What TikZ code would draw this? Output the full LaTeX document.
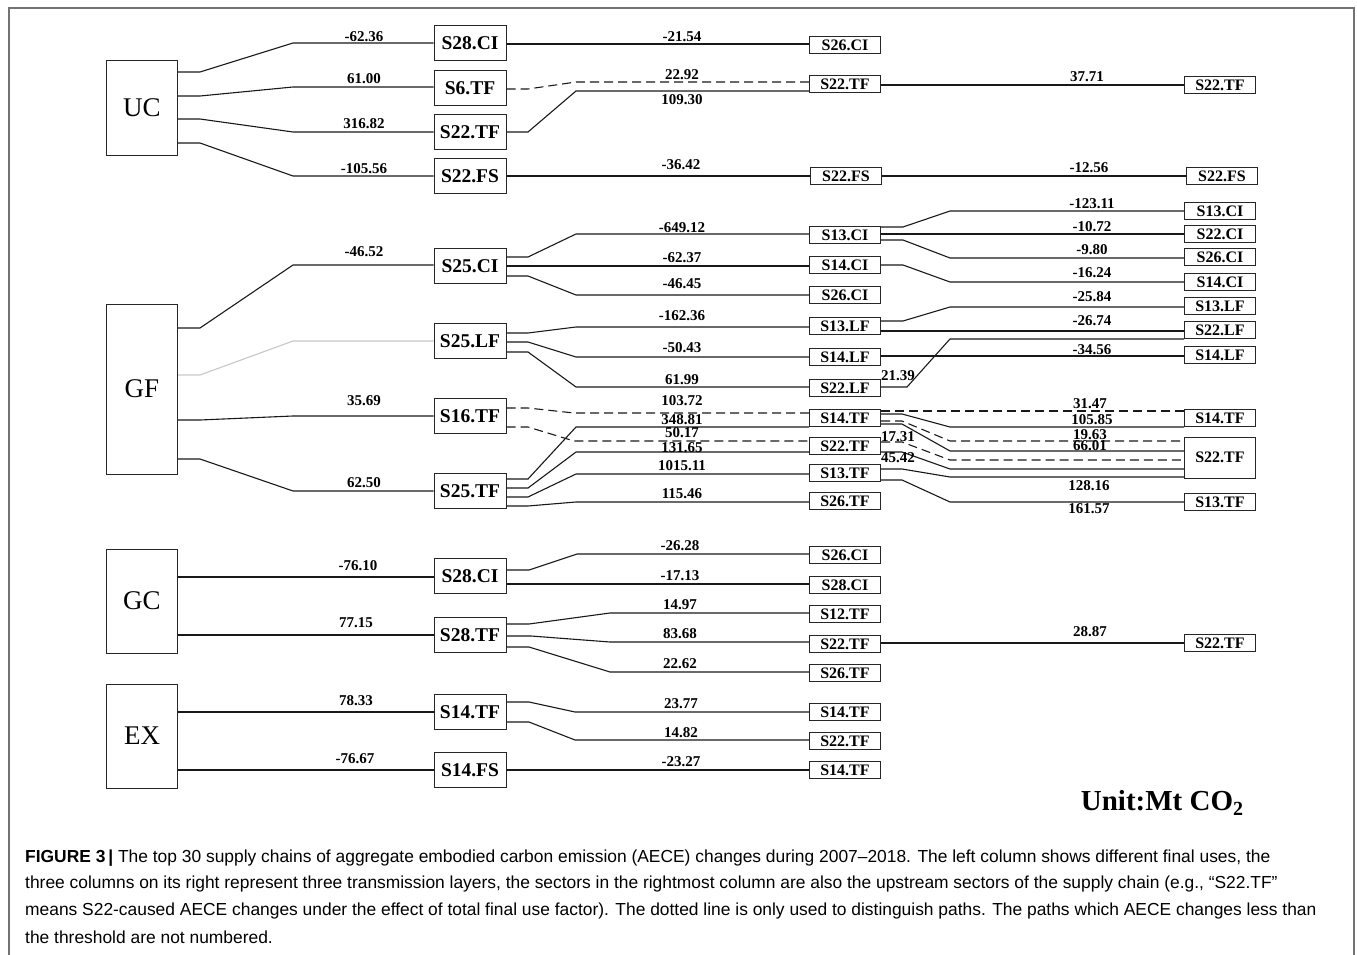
\documentclass[tikz,border=0pt]{standalone}
\usepackage{fontspec}
\setmainfont{Liberation Serif}
\newfontfamily\capfont{Liberation Sans}
\tikzset{
  fu/.style={draw=black!85, line width=1pt, minimum width=71pt, inner sep=0pt, font=\fontsize{27}{27}\selectfont},
  la/.style={draw=black!85, line width=1pt, minimum width=72pt, minimum height=35pt, inner sep=0pt, font=\fontsize{19.5}{19.5}\selectfont\bfseries},
  lb/.style={draw=black!85, line width=1pt, minimum width=71pt, minimum height=17pt, inner sep=0pt, font=\fontsize{16}{16}\selectfont\bfseries},
  num/.style={inner sep=0pt, font=\fontsize{15}{15}\selectfont\bfseries},
  ln/.style={line width=1.1pt, black!90},
  dsh/.style={ln, dash pattern=on 9pt off 5pt},
  pale/.style={line width=1.1pt, black!22},
  captxt/.style={anchor=west, inner sep=0pt, font=\capfont\fontsize{17.4}{18}\selectfont}
}
\newcommand{\cn}[7][ln]{\draw[#1] (#2.east |- 0,#3) -- (#4,#3) -- (#5,#7) -- (#6.west |- 0,#7);}
\newcommand{\st}[4][ln]{\draw[#1] (#2.east |- 0,#3) -- (#4.west |- 0,#3);}
\begin{document}
\begin{tikzpicture}[x=1pt,y=-1pt]
\useasboundingbox (0,0) rectangle (1357,955);
% frame
\draw[black!55, line width=1.5pt] (9,955) -- (9,8) -- (1354,8) -- (1354,955);

% column 0
\node[fu, minimum height=94pt] (uc) at (142,108) {UC};
\node[fu, minimum height=170pt] (gf) at (142,389) {GF};
\node[fu, minimum height=104pt] (gc) at (142,601) {GC};
\node[fu, minimum height=104pt] (ex) at (142,736) {EX};

% column 1
\node[la] (a1) at (470,43) {S28.CI};
\node[la] (a2) at (470,88) {S6.TF};
\node[la] (a3) at (470,132) {S22.TF};
\node[la] (a4) at (470,176) {S22.FS};
\node[la] (b1) at (470,266) {S25.CI};
\node[la] (b2) at (470,341) {S25.LF};
\node[la] (b3) at (470,416) {S16.TF};
\node[la] (b4) at (470,491) {S25.TF};
\node[la] (c1) at (470,576) {S28.CI};
\node[la] (c2) at (470,635) {S28.TF};
\node[la] (d1) at (470,712) {S14.TF};
\node[la] (d2) at (470,770) {S14.FS};

% column 2
\node[lb] (p1) at (845,45) {S26.CI};
\node[lb] (p2) at (845,84) {S22.TF};
\node[lb] (p3) at (846,176) {S22.FS};
\node[lb] (q1) at (845,235) {S13.CI};
\node[lb] (q2) at (845,265) {S14.CI};
\node[lb] (q3) at (845,295) {S26.CI};
\node[lb] (q4) at (845,326) {S13.LF};
\node[lb] (q5) at (845,357) {S14.LF};
\node[lb] (q6) at (845,388) {S22.LF};
\node[lb] (q7) at (845,418) {S14.TF};
\node[lb] (q8) at (845,446) {S22.TF};
\node[lb] (q9) at (845,473) {S13.TF};
\node[lb] (q10) at (845,501) {S26.TF};
\node[lb] (r1) at (845,555) {S26.CI};
\node[lb] (r2) at (845,585) {S28.CI};
\node[lb] (r3) at (845,614) {S12.TF};
\node[lb] (r4) at (845,644) {S22.TF};
\node[lb] (r5) at (845,673) {S26.TF};
\node[lb] (s1) at (845,712) {S14.TF};
\node[lb] (s2) at (845,741) {S22.TF};
\node[lb] (s3) at (845,770) {S14.TF};

% column 3
\node[lb] (t1) at (1220,85) {S22.TF};
\node[lb] (t2) at (1222,176) {S22.FS};
\node[lb] (u1) at (1220,211) {S13.CI};
\node[lb] (u2) at (1220,234) {S22.CI};
\node[lb] (u3) at (1220,257) {S26.CI};
\node[lb] (u4) at (1220,282) {S14.CI};
\node[lb] (u5) at (1220,306) {S13.LF};
\node[lb] (u6) at (1220,330) {S22.LF};
\node[lb] (u7) at (1220,355) {S14.LF};
\node[lb] (u8) at (1220,418) {S14.TF};
\node[lb, minimum height=41pt] (u9) at (1220,457.5) {S22.TF};
\node[lb] (u10) at (1220,502) {S13.TF};
\node[lb] (v1) at (1220,643) {S22.TF};

% column 0 -> 1
\cn{uc}{72}{200}{293}{a1}{43}
\cn{uc}{96}{200}{293}{a2}{87}
\cn{uc}{119}{200}{293}{a3}{132}
\cn{uc}{143}{200}{293}{a4}{176}
\cn{gf}{328}{200}{293}{b1}{265}
\cn[pale]{gf}{375}{200}{293}{b2}{341}
\cn{gf}{420}{200}{293}{b3}{416}
\cn{gf}{459}{200}{293}{b4}{491}
\st{gc}{577}{c1}
\st{gc}{635}{c2}
\st{ex}{712}{d1}
\st{ex}{770}{d2}

% column 1 -> 2
\st{a1}{44}{p1}
\cn[dsh]{a2}{89}{528}{576}{p2}{82}
\cn{a3}{132}{528}{576}{p2}{91}
\st{a4}{176}{p3}
\cn{b1}{257}{528}{576}{q1}{234}
\st{b1}{266}{q2}
\cn{b1}{276}{528}{576}{q3}{295}
\cn{b2}{333}{528}{576}{q4}{327}
\cn{b2}{342}{528}{576}{q5}{357}
\cn{b2}{352}{528}{576}{q6}{387}
\cn[dsh]{b3}{408}{528}{574}{q7}{413}
\cn[dsh]{b3}{427}{528}{574}{q8}{441}
\cn{b4}{479}{528}{576}{q7}{427}
\cn{b4}{488}{528}{576}{q8}{452}
\cn{b4}{497}{528}{576}{q9}{474}
\cn{b4}{506}{528}{576}{q10}{502}
\cn{c1}{570}{529}{577}{r1}{554}
\st{c1}{584}{r2}
\cn{c2}{624}{529}{610}{r3}{613}
\cn{c2}{636}{531}{610}{r4}{642}
\cn{c2}{647}{529}{610}{r5}{672}
\cn{d1}{702}{529}{575}{s1}{712}
\cn{d1}{722}{529}{575}{s2}{740}
\st{d2}{770}{s3}

% column 2 -> 3
\st{p2}{85}{t1}
\st{p3}{176}{t2}
\cn{q1}{227}{903}{950}{u1}{211}
\st{q1}{234}{u2}
\cn{q1}{240}{903}{950}{u3}{258}
\cn{q2}{265}{903}{950}{u4}{282}
\cn{q4}{321}{903}{950}{u5}{307}
\st{q4}{331}{u6}
\st{q5}{356}{u7}
\cn{q6}{387}{907}{950}{u6}{339}
\st[dsh]{q7}{411}{u8}
\cn{q7}{414}{902}{950}{u8}{427}
\cn[dsh]{q7}{421}{902}{950}{u9}{441}
\cn{q7}{424}{902}{950}{u9}{451}
\cn[dsh]{q8}{442}{902}{950}{u9}{460}
\cn{q8}{452}{902}{950}{u9}{469}
\cn{q9}{469}{902}{950}{u9}{477}
\cn{q9}{480}{902}{950}{u10}{502}
\st{r4}{643}{v1}

% labels column 0 -> 1
\node[num] (l1) at (364,37) {-62.36};
\node[num] (l2) at (364,79) {61.00};
\node[num] (l3) at (364,124) {316.82};
\node[num] (l4) at (364,169) {-105.56};
\node[num] (l5) at (364,252) {-46.52};
\node[num] (l6) at (364,401) {35.69};
\node[num] (l7) at (364,483) {62.50};
\node[num] (l8) at (358,566) {-76.10};
\node[num] (l9) at (356,623) {77.15};
\node[num] (l10) at (356,701) {78.33};
\node[num] (l11) at (355,759) {-76.67};

% labels column 1 -> 2
\node[num] (m1) at (682,37) {-21.54};
\node[num] (m2) at (682,75) {22.92};
\node[num] (m3) at (682,100) {109.30};
\node[num] (m4) at (681,165) {-36.42};
\node[num] (m5) at (682,228) {-649.12};
\node[num] (m6) at (682,258) {-62.37};
\node[num] (m7) at (682,284) {-46.45};
\node[num] (m8) at (682,316) {-162.36};
\node[num] (m9) at (682,348) {-50.43};
\node[num] (m10) at (682,380) {61.99};
\node[num] (m11) at (682,401) {103.72};
\node[num] (m12) at (682,420) {348.81};
\node[num] (m13) at (682,433) {50.17};
\node[num] (m14) at (682,448) {131.65};
\node[num] (m15) at (682,466) {1015.11};
\node[num] (m16) at (682,494) {115.46};
\node[num] (m17) at (680,546) {-26.28};
\node[num] (m18) at (680,576) {-17.13};
\node[num] (m19) at (680,605) {14.97};
\node[num] (m20) at (680,634) {83.68};
\node[num] (m21) at (680,664) {22.62};
\node[num] (m22) at (681,704) {23.77};
\node[num] (m23) at (681,733) {14.82};
\node[num] (m24) at (681,762) {-23.27};

% labels column 2 -> 3
\node[num] (n1) at (1087,77) {37.71};
\node[num] (n2) at (1089,168) {-12.56};
\node[num] (n3) at (1092,204) {-123.11};
\node[num] (n4) at (1092,227) {-10.72};
\node[num] (n5) at (1092,250) {-9.80};
\node[num] (n6) at (1092,273) {-16.24};
\node[num] (n7) at (1092,297) {-25.84};
\node[num] (n8) at (1092,321) {-26.74};
\node[num] (n9) at (1092,350) {-34.56};
\node[num] (n10) at (898,376) {21.39};
\node[num] (n11) at (1090,404) {31.47};
\node[num] (n12) at (1092,420) {105.85};
\node[num] (n13) at (1090,435) {19.63};
\node[num] (n14) at (1090,446) {66.01};
\node[num] (n15) at (898,437) {17.31};
\node[num] (n16) at (898,458) {45.42};
\node[num] (n17) at (1089,486) {128.16};
\node[num] (n18) at (1089,509) {161.57};
\node[num] (n19) at (1090,632) {28.87};

% unit
\node[inner sep=0pt, font=\fontsize{29}{29}\selectfont\bfseries] (unit) at (1162,803) {Unit:Mt CO\raisebox{-0.35ex}{\fontsize{20}{20}\selectfont 2}};

% caption
\node[captxt] (cl1) at (25,858) {\textbf{FIGURE 3\,|} The top 30 supply chains of aggregate embodied carbon emission (AECE) changes during 2007–2018. The left column shows different final uses, the};
\node[captxt] (cl2) at (25,884) {three columns on its right represent three transmission layers, the sectors in the rightmost column are also the upstream sectors of the supply chain (e.g., “S22.TF”};
\node[captxt] (cl3) at (25,911) {means S22-caused AECE changes under the effect of total final use factor). The dotted line is only used to distinguish paths. The paths which AECE changes less than};
\node[captxt] (cl4) at (25,937) {the threshold are not numbered.};
\end{tikzpicture}
\end{document}
